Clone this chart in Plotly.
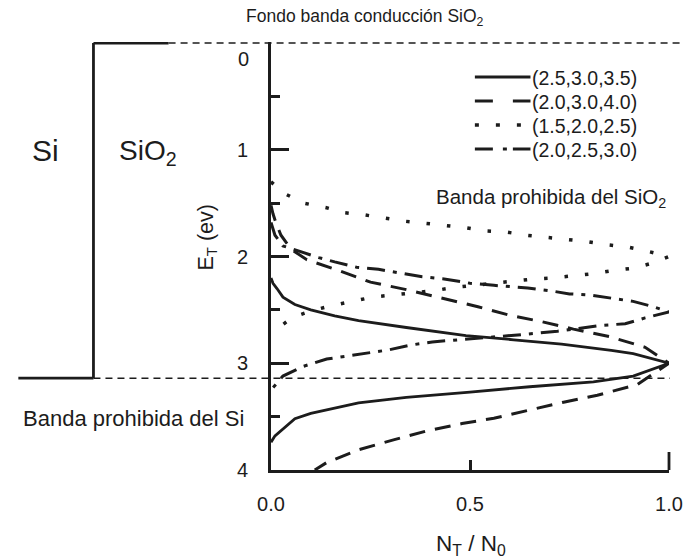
import plotly.graph_objects as go

# Normalised trap density N_T/N_0 versus trap energy E_T below the SiO2
# conduction band, for four (start, peak, end) energy distributions.

# (2.5,3.0,3.5)
solid_x = [0.0, 0.005, 0.015, 0.03, 0.06, 0.10, 0.16, 0.22, 0.34, 0.49, 0.61, 0.73, 0.855, 0.91, 1.0,
           0.91, 0.81, 0.65, 0.50, 0.34, 0.22, 0.10, 0.06, 0.034, 0.01, 0.0]
solid_e = [2.20, 2.25, 2.30, 2.38, 2.45, 2.50, 2.555, 2.60, 2.665, 2.74, 2.78, 2.82, 2.88, 2.91, 3.0,
           3.12, 3.175, 3.22, 3.27, 3.32, 3.37, 3.47, 3.52, 3.60, 3.68, 3.74]

# (2.0,3.0,4.0)
dashed_x = [0.0, 0.005, 0.012, 0.025, 0.05, 0.09, 0.17, 0.25, 0.34, 0.43, 0.52, 0.60, 0.68, 0.76, 0.85, 0.94, 1.0,
            0.92, 0.82, 0.735, 0.65, 0.56, 0.48, 0.39, 0.31, 0.22, 0.14, 0.11]
dashed_e = [1.52, 1.60, 1.68, 1.80, 1.93, 2.03, 2.13, 2.24, 2.31, 2.39, 2.47, 2.55, 2.61, 2.68, 2.75, 2.85, 3.0,
            3.20, 3.30, 3.365, 3.44, 3.515, 3.565, 3.635, 3.715, 3.81, 3.93, 4.0]

# (1.5,2.0,2.5)
dotted_x = [0.0, 0.034, 0.083, 0.137, 0.186, 0.235, 0.287, 0.338, 0.39, 0.44, 0.49, 0.54, 0.59, 0.64, 0.69,
            0.745, 0.795, 0.845, 0.895, 0.945, 1.0,
            0.96, 0.91, 0.86, 0.81, 0.76, 0.71, 0.66, 0.61, 0.56, 0.51, 0.46, 0.41, 0.31, 0.255, 0.205,
            0.152, 0.10, 0.054, 0.0]
dotted_e = [1.30, 1.41, 1.50, 1.54, 1.59, 1.61, 1.64, 1.67, 1.69, 1.71, 1.73, 1.76, 1.77, 1.80, 1.82,
            1.84, 1.86, 1.89, 1.91, 1.95, 2.0,
            2.06, 2.11, 2.13, 2.16, 2.18, 2.20, 2.21, 2.23, 2.25, 2.27, 2.29, 2.32, 2.36, 2.38, 2.42,
            2.46, 2.51, 2.57, 2.72]

# (2.0,2.5,3.0)
dashdot_x = [0.0, 0.01, 0.03, 0.07, 0.12, 0.16, 0.215, 0.27, 0.325, 0.38, 0.435, 0.50, 0.56, 0.645, 0.70,
             0.75, 0.80, 0.85, 0.91, 0.96, 1.0,
             0.94, 0.89, 0.83, 0.77, 0.72, 0.62, 0.50, 0.405, 0.35, 0.295, 0.25, 0.195, 0.14, 0.08,
             0.03, 0.0]
dashdot_e = [1.68, 1.80, 1.90, 1.95, 2.01, 2.05, 2.10, 2.12, 2.155, 2.19, 2.21, 2.25, 2.27, 2.295, 2.32,
             2.35, 2.36, 2.385, 2.42, 2.47, 2.52,
             2.575, 2.63, 2.645, 2.675, 2.70, 2.735, 2.77, 2.80, 2.83, 2.875, 2.90, 2.93, 2.96, 3.03,
             3.12, 3.25]

series_names = ["(2.5,3.0,3.5)", "(2.0,3.0,4.0)", "(1.5,2.0,2.5)", "(2.0,2.5,3.0)"]

# Band edges (eV below the SiO2 conduction band)
SIO2_CB = 0.0
SI_CB = 3.14

x_ticks = [0.0, 0.5, 1.0]
x_ticktext = ["0.0", "0.5", "1.0"]
y_ticks = [1, 2, 3, 4]
y_minor = [0.5, 1.5, 2.5, 3.5]

W, H = 695, 560
L, R, T, B = 271, 16, 42, 90
PW, PH = W - L - R, H - T - B
INK = "#1c1c1c"
FONT = "Liberation Sans, Arial, sans-serif"


def px(xp):
    return (xp - L) / PW


def py(yp):
    return (H - B - yp) / PH


line_styles = [
    dict(dash="solid", width=2.8),
    dict(dash="16px,10px", width=3),
    dict(dash="3.5px,17px", width=3.5),
    dict(dash="18px,8px,4px,8px", width=3),
]
series = [(solid_x, solid_e), (dashed_x, dashed_e), (dotted_x, dotted_e), (dashdot_x, dashdot_e)]

fig = go.Figure()
for (xs, es), st, name in zip(series, line_styles, series_names):
    fig.add_trace(go.Scatter(
        x=xs, y=es, mode="lines", name=name, showlegend=False,
        line=dict(color=INK, width=st["width"], dash=st["dash"]),
    ))

shapes = []
# Band diagram: Si conduction band, interface, SiO2 conduction band
shapes.append(dict(type="line", xref="paper", yref="y", x0=px(12), x1=px(89), y0=SI_CB, y1=SI_CB,
                   line=dict(color=INK, width=2.8)))
shapes.append(dict(type="line", xref="paper", yref="y", x0=px(89), x1=px(89), y0=SI_CB, y1=SIO2_CB,
                   line=dict(color=INK, width=2.8)))
shapes.append(dict(type="line", xref="paper", yref="y", x0=px(89), x1=px(166), y0=SIO2_CB, y1=SIO2_CB,
                   line=dict(color=INK, width=2.8)))
shapes.append(dict(type="line", xref="paper", yref="y", x0=px(166), x1=px(695), y0=SIO2_CB, y1=SIO2_CB,
                   line=dict(color=INK, width=1.5, dash="7px,5px")))
shapes.append(dict(type="line", xref="paper", yref="y", x0=px(89), x1=px(680), y0=SI_CB, y1=SI_CB,
                   line=dict(color=INK, width=1.5, dash="7px,5px")))
# long end tick of the x axis
shapes.append(dict(type="line", xref="paper", yref="paper", x0=1, x1=1, y0=0, y1=18 / PH,
                   line=dict(color=INK, width=2.8)))

annotations = []
# Legend
legend_rows = [77, 101, 125, 149]
legend_dash = ["solid", "18px,20px", "4px,17px", "18px,10px,4px,6px"]
legend_w = [2.8, 3, 3.5, 3]
for row, d, w, name in zip(legend_rows, legend_dash, legend_w, series_names):
    shapes.append(dict(type="line", xref="paper", yref="paper", x0=px(480), x1=px(537),
                       y0=py(row), y1=py(row), line=dict(color=INK, width=w, dash=d)))
    annotations.append(dict(xref="paper", yref="paper", x=px(537), y=py(row + 1), text=name,
                            showarrow=False, xanchor="left", yanchor="middle",
                            font=dict(size=19.5, color=INK, family=FONT)))

texts = [
    ("Fondo banda conducción SiO<sub>2</sub>", 367, 18, 17.5, "center"),
    ("Si", 40, 150, 30, "center"),
    ("SiO<sub>2</sub>", 145, 152, 28, "center"),
    ("Banda prohibida del SiO<sub>2</sub>", 558, 198, 20.5, "center"),
    ("Banda prohibida del Si", 130, 418, 22, "center"),
    ("N<sub>T</sub> / N<sub>0</sub>", 476, 545, 22.5, "center"),
]
for t, x, y, s, anc in texts:
    annotations.append(dict(xref="paper", yref="paper", x=px(x), y=py(y), text=t, showarrow=False,
                            xanchor=anc, yanchor="middle", font=dict(size=s, color=INK, family=FONT)))
annotations.append(dict(xref="paper", yref="paper", x=px(205), y=py(237), text="E<sub>T</sub> (ev)",
                        textangle=-90, showarrow=False, xanchor="center", yanchor="middle",
                        font=dict(size=21.5, color=INK, family=FONT)))
# label of the top (zero) tick
annotations.append(dict(xref="paper", yref="y", x=px(251), y=0, yshift=-16, text="0", showarrow=False,
                        xanchor="right", yanchor="middle", font=dict(size=20, color=INK, family=FONT)))

fig.update_layout(
    width=W, height=H,
    margin=dict(l=L, r=R, t=T, b=B, pad=0),
    paper_bgcolor="white", plot_bgcolor="white",
    showlegend=False,
    font=dict(family=FONT, color=INK, size=20),
    shapes=shapes, annotations=annotations,
    xaxis=dict(range=[0, 1], showgrid=False, zeroline=False, showline=True, linewidth=3, linecolor=INK,
               ticks="inside", ticklen=10, tickwidth=2.8, tickcolor=INK,
               tickvals=x_ticks, ticktext=x_ticktext, ticklabelstandoff=14,
               tickfont=dict(size=20, color=INK, family=FONT)),
    yaxis=dict(range=[4, -0.01], showgrid=False, zeroline=False, showline=True, linewidth=3, linecolor=INK,
               ticks="inside", ticklen=18, tickwidth=2.8, tickcolor=INK,
               tickvals=y_ticks, ticklabelstandoff=16,
               minor=dict(tickvals=y_minor, ticks="inside", ticklen=9, tickwidth=2.8, tickcolor=INK),
               tickfont=dict(size=20, color=INK, family=FONT)),
)

fig.write_html("out.html")
